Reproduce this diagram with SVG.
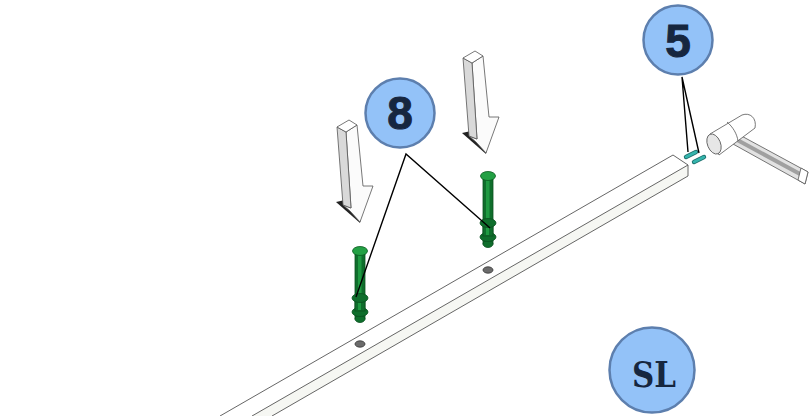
<svg xmlns="http://www.w3.org/2000/svg" width="811" height="416" viewBox="0 0 811 416">
<style>
.badge{fill:#93c2f8;stroke:#5d7fae;stroke-width:2.5}
.num{font-family:"Liberation Sans",Arial,sans-serif;font-weight:700;font-size:46px;fill:#16263f;stroke:#16263f;stroke-width:1;text-anchor:middle}
.sl{font-family:"DejaVu Serif",serif;font-weight:700;font-size:36px;fill:#16263f;text-anchor:middle}
.leader{fill:none;stroke:#000;stroke-width:1.4}
.edge{fill:none;stroke:#555;stroke-width:.9}
.hole{fill:#6b6b6b;stroke:#333;stroke-width:.8}
.pin{fill:#0f6e2c;stroke:#0a5020;stroke-width:.8}
.pinhead{fill:#23a044;stroke:#0a5a20;stroke-width:.8}
.outline{stroke:#555;stroke-width:.8;stroke-linejoin:round}
.key{fill:none;stroke-linecap:round}
</style>
<defs>
<g id="pin-shape">
<rect class="pin" x="-5" y="0" width="10" height="68"/>
<rect x="-2" y="3" width="3.5" height="41" fill="#1f9a42"/>
<ellipse class="pin" cx="0" cy="68" rx="5" ry="3.5"/>
<ellipse class="pin" cx="0" cy="61" rx="8" ry="4.5"/>
<rect class="pin" x="-5" y="49" width="10" height="11"/>
<rect x="-2" y="51" width="3" height="8" fill="#1f9a42"/>
<ellipse class="pin" cx="0" cy="47" rx="8" ry="4.5"/>
<ellipse class="pinhead" cx="0" cy="0" rx="7.5" ry="4.5"/>
</g>
<g id="arrow-shape">
<path d="M336 202 L360 223 L362 212 L345 200Z" fill="#222"/>
<path class="outline" d="M346 132 L357 125 L363 186 L373 186 L360 222 L350 211 L343 205 L351 208Z" fill="#fbfbfb"/>
<path class="outline" d="M337 127 L346 132 L351 208 L343 205Z" fill="#d9d9d9"/>
<path class="outline" d="M337 127 L349 120 L357 125 L346 132Z" fill="#fff"/>
</g>
</defs>

<g id="beam">
<path d="M688 165 L688 176 L272 416 L252 416Z" fill="#f6f7f3"/>
<path class="edge" d="M220 416 L673 155 L688 165 L252 416"/>
<path class="edge" d="M688 165 L688 176 L272 416"/>
<ellipse class="hole" cx="360" cy="344" rx="5" ry="3.2"/>
<ellipse class="hole" cx="488" cy="270" rx="5" ry="3.2"/>
</g>

<g id="arrow-left"><use href="#arrow-shape"/></g>
<g id="arrow-right"><use href="#arrow-shape" transform="translate(126 -69)"/></g>
<g id="pin-left"><use href="#pin-shape" transform="translate(360 251)"/></g>
<g id="pin-right"><use href="#pin-shape" transform="translate(488 176)"/></g>

<g id="keys">
<path class="key" d="M686 157 L696 152" stroke="#1d6f6c" stroke-width="4.4"/>
<path class="key" d="M686 157 L696 152" stroke="#35b5ad" stroke-width="2.6"/>
<path class="key" d="M694 162 L704 157" stroke="#1d6f6c" stroke-width="4.4"/>
<path class="key" d="M694 162 L704 157" stroke="#35b5ad" stroke-width="2.6"/>
</g>

<g id="hammer">
<path class="outline" d="M736 133 L808 172 L805 184 L733 144Z" fill="#e2e2e2"/>
<path d="M736 137 L806 175 L805 179 L735 141Z" fill="#a0a0a0"/>
<path class="outline" d="M801 168 L808 172 L805 184 L798 180Z" fill="#fff"/>
<path class="outline" d="M710 134 L742 115 C750 112 757 118 755 128 L719 155Z" fill="#fff"/>
<path class="outline" d="M727 122 C733 127 737 134 738 141" fill="none"/>
<ellipse class="outline" cx="714" cy="144" rx="6.5" ry="10.5" transform="rotate(-22 714 144)" fill="#e6e6e6"/>
</g>

<g id="connectors">
<path class="leader" d="M356 297 L406 154 L490 228"/>
<path class="leader" d="M688 152 L682 77 L699 153"/>
</g>

<g id="badge-8">
<circle class="badge" cx="400" cy="113" r="34.5"/>
<text class="num" x="400" y="129">8</text>
</g>
<g id="badge-5">
<circle class="badge" cx="678" cy="40" r="34.5"/>
<text class="num" x="678" y="57">5</text>
</g>
<g id="badge-sl">
<circle class="badge" cx="652" cy="370" r="42.5"/>
<text class="sl" x="654" y="387" textLength="44" lengthAdjust="spacingAndGlyphs">SL</text>
</g>
</svg>
